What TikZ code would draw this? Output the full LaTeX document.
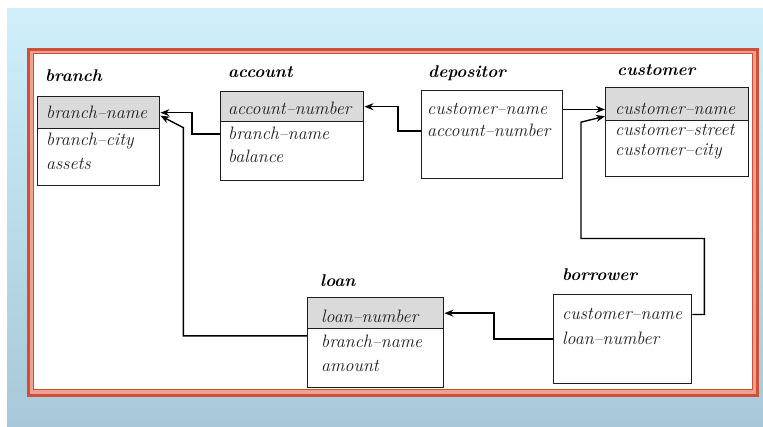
\documentclass[tikz,border=0pt]{standalone}
\usetikzlibrary{arrows.meta}
\definecolor{bgtop}{HTML}{D0EFFB}
\definecolor{bgbot}{HTML}{A6C8D8}
\definecolor{framered}{HTML}{CF5039}
\definecolor{framepink}{HTML}{EEA091}
\definecolor{keygray}{HTML}{DADADA}
\definecolor{inkgray}{HTML}{1E1E1E}
\begin{document}
\begin{tikzpicture}[x=1pt,y=-1pt,
	tbl/.style={draw=inkgray,line width=1.4pt,rectangle,inner sep=0pt,anchor=north west},
	keybox/.style={tbl,fill=keygray},
	attr/.style={anchor=base west,inner sep=0pt,text=inkgray,font=\fontsize{18}{22}\selectfont\itshape},
	title/.style={anchor=base west,inner sep=0pt,font=\fontsize{17}{20}\selectfont\bfseries\itshape},
	fk/.style={draw=black,line width=1.4pt,-{Stealth[length=9pt,width=7pt]}}]
	\useasboundingbox (0,0) rectangle (763,427);
	\fill[white] (0,0) rectangle (763,427);
	\shade[top color=bgtop,bottom color=bgbot] (7,9) rectangle (763,427);
	\fill[white] (33,53) rectangle (753,390);
	\draw[framepink,line width=6.5pt] (30.5,51) rectangle (756,393.5);
	\draw[framered,line width=2.8pt] (28.4,49.4) rectangle (757.6,395.6);
	\draw[framered,line width=1.2pt] (33.6,53.8) rectangle (752.4,389.4);
	\node[title] (branchT) at (45,82) {branch};
	\node[keybox,minimum width=122pt,minimum height=32pt] (branchKey) at (37,96) {};
	\node[tbl,minimum width=122pt,minimum height=57pt] (branchBody) at (37,128) {};
	\node[attr] (brName) at (46,119) {branch\textendash name};
	\node[attr] (brCity) at (46,146) {branch\textendash city};
	\node[attr] (brAssets) at (46,170) {assets};
	\node[title] (accountT) at (228,78) {account};
	\node[keybox,minimum width=143pt,minimum height=30pt] (accountKey) at (220,91) {};
	\node[tbl,minimum width=143pt,minimum height=59pt] (accountBody) at (220,121) {};
	\node[attr] (accNumber) at (228,115) {account\textendash number};
	\node[attr] (accBname) at (228,140) {branch\textendash name};
	\node[attr] (accBalance) at (228,163) {balance};
	\node[title] (depositorT) at (428,78) {depositor};
	\node[tbl,minimum width=141pt,minimum height=88pt] (depositor) at (421,90) {};
	\node[attr] (depCname) at (427,115) {customer\textendash name};
	\node[attr] (depAnumber) at (427,137) {account\textendash number};
	\node[title] (customerT) at (617,76) {customer};
	\node[keybox,minimum width=143pt,minimum height=33pt] (customerKey) at (605,87) {};
	\node[tbl,minimum width=143pt,minimum height=56pt] (customerBody) at (605,120) {};
	\node[attr] (cusName) at (615,115) {customer\textendash name};
	\node[attr] (cusStreet) at (615,136) {customer\textendash street};
	\node[attr] (cusCity) at (615,156) {customer\textendash city};
	\node[title] (loanT) at (320,287) {loan};
	\node[keybox,minimum width=136pt,minimum height=31pt] (loanKey) at (307,297) {};
	\node[tbl,minimum width=136pt,minimum height=59pt] (loanBody) at (307,328) {};
	\node[attr] (loanNumber) at (321,323) {loan\textendash number};
	\node[attr] (loanBname) at (321,348) {branch\textendash name};
	\node[attr] (loanAmount) at (321,372) {amount};
	\node[title] (borrowerT) at (562,281) {borrower};
	\node[tbl,minimum width=138pt,minimum height=89pt] (borrower) at (553,294) {};
	\node[attr] (borCname) at (562,320) {customer\textendash name};
	\node[attr] (borLnumber) at (562,345) {loan\textendash number};
	\draw[fk] (accBname.west -| accountBody.west) -- ++(-28,0) |- (branchKey.east);
	\draw[fk] ([yshift=6pt]loanBname.west -| loanBody.west) -| ([xshift=23pt,yshift=-15pt]branchKey.east) -- ([yshift=-3pt]branchKey.east);
	\draw[fk] (depAnumber.west -| depositor.west) -- ++(-23,0) |- (accountKey.east);
	\draw[fk] (depCname.west -| depositor.east) -- (depCname.west -| customerKey.west);
	\draw[fk] (borCname.west -| borrower.east) -- ++(12,0) -- ++(0,-76) -| ([xshift=-24pt,yshift=-18pt]customerKey.west) -- ([yshift=-12pt]customerKey.west);
	\draw[fk] (borLnumber.west -| borrower.west) -- ++(-59,0) |- (loanKey.east);
\end{tikzpicture}
\end{document}
